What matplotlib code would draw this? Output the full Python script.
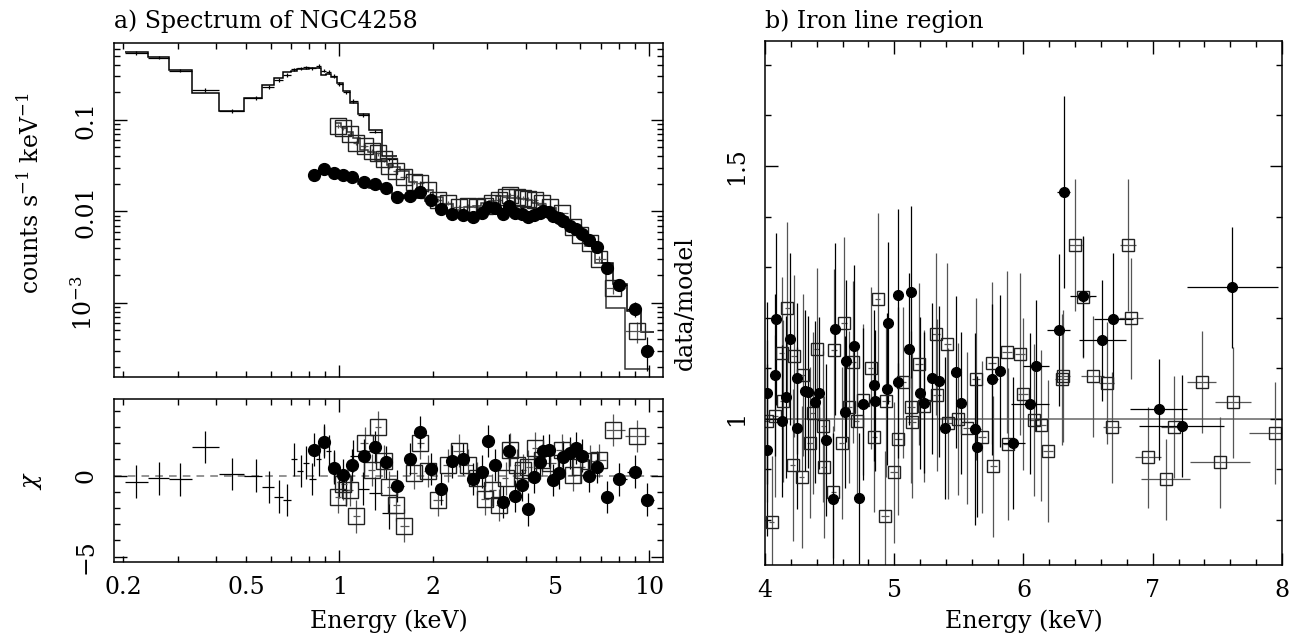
"""
NGC4258 X-ray spectrum: broadband fit with chi residuals (a) and
data/model ratio around the iron line (b), PGPLOT-like styling.
"""

import numpy as np
import matplotlib

matplotlib.use("Agg")
import matplotlib.pyplot as plt
from matplotlib.ticker import FixedFormatter, FixedLocator, NullFormatter

plt.rcParams["font.family"] = "DejaVu Serif"
plt.rcParams["mathtext.fontset"] = "dejavuserif"
plt.rcParams["font.size"] = 17

# ---- panel a: soft-band data (plain crosses) ----
soft_e = [0.221, 0.261, 0.305, 0.367, 0.451, 0.536, 0.591, 0.637, 0.678, 0.713,
          0.749, 0.777, 0.817, 0.858, 0.890, 0.924, 0.958, 1.000, 1.053, 1.110,
          1.190, 1.300, 1.450]
soft_flux = [0.54, 0.48, 0.346, 0.213, 0.126, 0.173, 0.231, 0.274, 0.31, 0.358,
             0.367, 0.376, 0.367, 0.389, 0.346, 0.337, 0.302, 0.247, 0.2, 0.162,
             0.113, 0.0745, 0.037]
soft_chi = [-0.37, -0.17, -0.23, 1.77, 0.1, 0.0, -0.7, -1.3, -1.5, 1.0,
            0.3, 0.8, -0.2, 1.0, 2.2, 1.5, 0.6, -0.4, -0.9, 1.2,
            -0.8, -1.1, -2.3]
soft_relerr = 0.045

# ---- panel a: open squares ----
sq_e = [0.99, 1.03, 1.08, 1.13, 1.21, 1.27, 1.33, 1.39, 1.45, 1.52,
        1.62, 1.74, 1.82, 1.93, 2.08, 2.24, 2.43, 2.61, 2.78, 2.96,
        3.12, 3.27, 3.45, 3.56, 3.76, 3.93, 4.08, 4.29, 4.50, 4.79,
        5.23, 5.70, 6.00, 6.45, 6.91, 7.67, 9.17]
sq_flux = [0.086, 0.081, 0.070, 0.056, 0.052, 0.046, 0.043, 0.037, 0.031, 0.028,
           0.024, 0.021, 0.0203, 0.0172, 0.0134, 0.0123, 0.0113, 0.0115, 0.0113, 0.0115,
           0.0123, 0.0134, 0.0145, 0.0152, 0.0145, 0.0140, 0.0138, 0.0134, 0.0123, 0.0113,
           0.0095, 0.0068, 0.0055, 0.0045, 0.0030, 0.00145, 0.00049]
sq_chi = [-1.31, -0.5, -0.9, -2.52, 2.02, 0.36, 3.0, 0.88, -0.73, -1.83,
          -3.08, 0.15, 2.02, 0.3, -1.52, 0.63, 1.54, 0.63, -0.17, -1.42,
          -0.9, -1.83, -0.17, 1.6, 0.63, 0.36, 0.56, 1.71, 0.98, 0.77,
          1.56, 0.04, 0.56, 0.88, 0.94, 2.81, 2.44]
sq_relerr = [0.05, 0.05, 0.05, 0.05, 0.05, 0.05, 0.05, 0.05, 0.05, 0.05,
             0.05, 0.05, 0.05, 0.05, 0.05, 0.05, 0.05, 0.05, 0.05, 0.05,
             0.05, 0.05, 0.05, 0.05, 0.05, 0.05, 0.05, 0.05, 0.05, 0.05,
             0.05, 0.06, 0.06, 0.07, 0.09, 0.14, 0.25]

# ---- panel a: filled circles ----
circ_e = [0.83, 0.89, 0.96, 1.03, 1.10, 1.20, 1.30, 1.41, 1.54, 1.69,
          1.82, 1.97, 2.13, 2.31, 2.51, 2.70, 2.89, 3.03, 3.19, 3.37,
          3.54, 3.70, 3.88, 4.08, 4.26, 4.43, 4.56, 4.77, 4.91, 5.12,
          5.28, 5.55, 5.81, 6.07, 6.41, 6.78, 7.30, 8.00, 9.00, 9.88]
circ_flux = [0.025, 0.029, 0.0266, 0.0251, 0.0237, 0.021, 0.020, 0.0182, 0.0145, 0.0149,
             0.0164, 0.0134, 0.0106, 0.0094, 0.0092, 0.0088, 0.0097, 0.0113, 0.0108, 0.0094,
             0.0115, 0.0097, 0.0094, 0.0087, 0.0092, 0.0096, 0.0100, 0.0098, 0.0090, 0.0085,
             0.0078, 0.0069, 0.0064, 0.0056, 0.0049, 0.0041, 0.0024, 0.00157, 0.00086, 0.00030]
circ_chi = [1.6, 2.06, 0.46, 0.04, 0.67, 1.23, 1.77, 0.81, -0.64, 1.02,
            2.69, 0.42, -0.83, 0.88, 1.04, -0.2, 0.25, 2.13, 0.67, -1.63,
            1.54, -1.27, -0.58, -2.08, -0.1, 0.81, 1.5, 1.56, -0.27, 0.19,
            1.13, 1.4, 1.71, 1.23, 0.0, 0.52, -1.31, -0.23, 0.25, -1.48]
circ_relerr = [0.05, 0.05, 0.05, 0.05, 0.05, 0.05, 0.05, 0.05, 0.05, 0.05,
               0.05, 0.05, 0.05, 0.05, 0.05, 0.05, 0.05, 0.05, 0.05, 0.05,
               0.05, 0.05, 0.05, 0.05, 0.05, 0.05, 0.05, 0.05, 0.05, 0.05,
               0.05, 0.05, 0.06, 0.06, 0.07, 0.08, 0.10, 0.13, 0.18, 0.40]

# ---- panel b: iron line region, data/model ----
fe_circ_e = [4.013, 4.018, 4.077, 4.085, 4.134, 4.160, 4.193, 4.245, 4.250, 4.310,
             4.335, 4.387, 4.420, 4.472, 4.524, 4.544, 4.619, 4.627, 4.691, 4.730,
             4.761, 4.846, 4.851, 4.942, 4.949, 5.027, 5.033, 5.114, 5.127, 5.199,
             5.230, 5.290, 5.346, 5.393, 5.478, 5.515, 5.628, 5.638, 5.760, 5.818,
             5.921, 6.050, 6.097, 6.272, 6.310, 6.463, 6.610, 6.695, 7.048, 7.224,
             7.616]
fe_circ_ratio = [1.052, 0.939, 1.087, 1.197, 0.996, 1.044, 1.158, 0.982, 1.080, 1.056,
                 1.053, 1.033, 1.051, 0.958, 0.842, 1.178, 1.014, 1.115, 1.144, 0.843,
                 1.030, 1.066, 1.036, 1.059, 1.190, 1.072, 1.244, 1.138, 1.250, 1.051,
                 1.032, 1.080, 1.074, 0.982, 1.092, 1.031, 0.980, 0.945, 1.078, 1.094,
                 0.952, 1.030, 1.105, 1.176, 1.449, 1.242, 1.155, 1.198, 1.019, 0.986,
                 1.260]
fe_circ_yerr = [0.18, 0.17, 0.16, 0.17, 0.15, 0.16, 0.17, 0.16, 0.15, 0.16,
                0.15, 0.16, 0.15, 0.15, 0.13, 0.17, 0.15, 0.16, 0.16, 0.13,
                0.15, 0.15, 0.14, 0.15, 0.16, 0.15, 0.17, 0.15, 0.17, 0.15,
                0.14, 0.15, 0.15, 0.14, 0.15, 0.14, 0.19, 0.14, 0.15, 0.15,
                0.13, 0.14, 0.13, 0.15, 0.19, 0.12, 0.12, 0.13, 0.10, 0.10,
                0.12]
fe_circ_xerr = [0.02, 0.02, 0.02, 0.02, 0.02, 0.02, 0.02, 0.02, 0.02, 0.02,
                0.02, 0.02, 0.02, 0.02, 0.025, 0.025, 0.025, 0.025, 0.025, 0.025,
                0.025, 0.025, 0.025, 0.025, 0.03, 0.03, 0.03, 0.03, 0.03, 0.03,
                0.03, 0.03, 0.03, 0.03, 0.04, 0.04, 0.04, 0.04, 0.04, 0.04,
                0.09, 0.15, 0.10, 0.09, 0.05, 0.10, 0.18, 0.15, 0.22, 0.33,
                0.35]

fe_sq_e = [4.013, 4.052, 4.077, 4.129, 4.137, 4.173, 4.214, 4.224, 4.284, 4.292,
           4.348, 4.369, 4.400, 4.451, 4.456, 4.528, 4.534, 4.593, 4.611, 4.652,
           4.683, 4.709, 4.761, 4.818, 4.846, 4.872, 4.928, 4.934, 4.998, 5.031,
           5.065, 5.127, 5.135, 5.194, 5.230, 5.321, 5.330, 5.412, 5.420, 5.490,
           5.565, 5.633, 5.677, 5.755, 5.768, 5.871, 5.880, 5.973, 5.994, 6.081,
           6.135, 6.192, 6.296, 6.308, 6.400, 6.463, 6.537, 6.644, 6.683, 6.810,
           6.832, 6.961, 7.102, 7.164, 7.379, 7.520, 7.624, 7.946]
fe_sq_ratio = [0.995, 0.797, 1.005, 1.130, 1.036, 1.219, 0.909, 1.125, 0.885, 1.087,
               0.953, 1.011, 1.138, 0.985, 0.905, 0.855, 1.136, 0.952, 1.190, 1.024,
               1.113, 0.995, 1.038, 1.100, 0.965, 1.237, 0.807, 1.036, 0.894, 0.960,
               1.072, 1.024, 0.993, 1.109, 1.026, 1.167, 1.047, 1.148, 0.991, 0.999,
               0.982, 1.078, 0.964, 1.111, 0.906, 1.133, 0.951, 1.128, 1.049, 0.998,
               0.987, 0.937, 1.078, 1.085, 1.344, 1.240, 1.084, 1.071, 0.983, 1.344,
               1.199, 0.924, 0.881, 0.984, 1.073, 0.914, 1.033, 0.972]
fe_sq_yerr = [0.16, 0.13, 0.16, 0.15, 0.16, 0.17, 0.15, 0.16, 0.14, 0.16,
              0.15, 0.16, 0.16, 0.15, 0.14, 0.13, 0.16, 0.15, 0.17, 0.15,
              0.16, 0.15, 0.15, 0.16, 0.15, 0.17, 0.13, 0.15, 0.14, 0.15,
              0.15, 0.15, 0.15, 0.16, 0.15, 0.16, 0.15, 0.16, 0.15, 0.15,
              0.15, 0.16, 0.15, 0.16, 0.14, 0.16, 0.15, 0.16, 0.15, 0.15,
              0.15, 0.14, 0.13, 0.13, 0.13, 0.12, 0.12, 0.12, 0.11, 0.13,
              0.12, 0.10, 0.08, 0.10, 0.10, 0.09, 0.11, 0.10]
fe_sq_xerr = [0.02, 0.02, 0.02, 0.02, 0.02, 0.02, 0.02, 0.02, 0.02, 0.02,
              0.02, 0.02, 0.02, 0.02, 0.02, 0.02, 0.02, 0.02, 0.02, 0.02,
              0.02, 0.02, 0.02, 0.02, 0.02, 0.02, 0.03, 0.03, 0.03, 0.03,
              0.03, 0.03, 0.03, 0.03, 0.03, 0.03, 0.03, 0.03, 0.03, 0.03,
              0.03, 0.03, 0.03, 0.03, 0.03, 0.04, 0.04, 0.04, 0.04, 0.04,
              0.04, 0.04, 0.05, 0.05, 0.05, 0.05, 0.09, 0.06, 0.07, 0.06,
              0.09, 0.10, 0.19, 0.10, 0.11, 0.23, 0.14, 0.20]

# axis tick values / labels
spec_major = [1e-3, 1e-2, 1e-1]
spec_labels = [r"$10^{-3}$", "0.01", "0.1"]
e_major = [1, 10]
e_minor = [0.2, 0.3, 0.4, 0.5, 0.6, 0.7, 0.8, 0.9, 2, 3, 4, 5, 6, 7, 8, 9]
e_minor_labels = ["0.2", "", "", "0.5", "", "", "", "", "2", "", "", "5", "", "", "", ""]
chi_major = [-5, 0]
chi_labels = ["\u22125", "0"]
ratio_major = [1.0, 1.5]
ratio_labels = ["1", "1.5"]
fe_e_major = [4, 5, 6, 7, 8]

INK = "black"
GREY = "#555555"


def log_edges(e):
    """Bin edges halfway (in log) between neighbouring channel energies."""
    e = np.asarray(e, float)
    mid = np.sqrt(e[:-1] * e[1:])
    lo = np.concatenate([[e[0] ** 2 / mid[0]], mid])
    hi = np.concatenate([mid, [e[-1] ** 2 / mid[-1]]])
    return lo, hi


def style_axes(ax):
    for sp in ax.spines.values():
        sp.set_linewidth(1.1)
    ax.tick_params(which="both", direction="in", top=True, right=True, width=1.0)
    ax.tick_params(which="major", length=9)
    ax.tick_params(which="minor", length=4.5)
    ax.tick_params(axis="y", which="both", pad=12)
    ax.tick_params(axis="x", which="both", pad=10)


fig = plt.figure(figsize=(12.97, 6.35), dpi=100)
ax_top = fig.add_axes([0.0879, 0.4063, 0.4233, 0.526])
ax_bot = fig.add_axes([0.0879, 0.115, 0.4233, 0.2567])
ax_fe = fig.add_axes([0.5898, 0.1102, 0.3986, 0.8252])

datasets = [
    (soft_e, soft_flux, soft_chi, soft_relerr, dict(fmt="none", ecolor=INK), INK),
    (sq_e, sq_flux, sq_chi, sq_relerr,
     dict(fmt="s", ms=11, mfc="none", mec="#222222", mew=1.0, ecolor=GREY), "#333333"),
    (circ_e, circ_flux, circ_chi, circ_relerr,
     dict(fmt="o", ms=8.5, color=INK, ecolor=INK), INK),
]

for e, flux, chi, rel, kw, model_col in datasets:
    e = np.asarray(e, float)
    flux = np.asarray(flux, float)
    chi = np.asarray(chi, float)
    sigma = np.asarray(rel, float) * flux
    model = flux - chi * sigma
    lo, hi = log_edges(e)
    xerr = [e - lo, hi - e]

    ax_top.stairs(model, np.concatenate([[lo[0]], hi]), baseline=None,
                  color=model_col, lw=1.1)
    ax_top.errorbar(e, flux, xerr=xerr, yerr=sigma, elinewidth=0.9, capsize=0, **kw)
    ax_bot.errorbar(e, chi, xerr=xerr, yerr=np.ones_like(chi), elinewidth=0.9,
                    capsize=0, **kw)

# panel a, top: spectrum
ax_top.set_xscale("log")
ax_top.set_yscale("log")
ax_top.set_xlim(0.187, 11.1)
ax_top.set_ylim(1.55e-4, 0.694)
ax_top.xaxis.set_major_locator(FixedLocator(e_major))
ax_top.xaxis.set_minor_locator(FixedLocator(e_minor))
ax_top.xaxis.set_major_formatter(NullFormatter())
ax_top.xaxis.set_minor_formatter(NullFormatter())
ax_top.yaxis.set_major_locator(FixedLocator(spec_major))
ax_top.yaxis.set_minor_locator(matplotlib.ticker.LogLocator(subs=np.arange(2, 10)))
ax_top.yaxis.set_minor_formatter(NullFormatter())
ax_top.set_yticks(spec_major)
ax_top.set_yticklabels(spec_labels, rotation=90, va="center")
style_axes(ax_top)
ax_top.set_ylabel(r"counts s$^{-1}$ keV$^{-1}$")
ax_top.yaxis.set_label_coords(-0.128, 0.55)

# panel a, bottom: chi residuals
ax_bot.axhline(0, color="#777777", lw=1.1, ls=(0, (5, 4)), zorder=0)
ax_bot.set_xscale("log")
ax_bot.set_xlim(0.187, 11.1)
ax_bot.set_ylim(-5.33, 4.73)
ax_bot.xaxis.set_major_locator(FixedLocator(e_major))
ax_bot.xaxis.set_major_formatter(FixedFormatter(["1", "10"]))
ax_bot.xaxis.set_minor_locator(FixedLocator(e_minor))
ax_bot.xaxis.set_minor_formatter(FixedFormatter(e_minor_labels))
ax_bot.yaxis.set_minor_locator(FixedLocator(np.arange(-5, 5)))
ax_bot.set_yticks(chi_major)
ax_bot.set_yticklabels(chi_labels, rotation=90, va="center")
style_axes(ax_bot)
ax_bot.set_xlabel("Energy (keV)")
ax_bot.xaxis.set_label_coords(0.5, -0.29)
ax_bot.set_ylabel(r"$\chi$")
ax_bot.yaxis.set_label_coords(-0.128, 0.5)

# panel b: iron line ratio
ax_fe.axhline(1.0, color="#666666", lw=1.1, zorder=0)
ax_fe.errorbar(fe_sq_e, fe_sq_ratio, xerr=fe_sq_xerr, yerr=fe_sq_yerr, fmt="s",
               ms=9, mfc="none", mec="#222222", mew=1.0, ecolor=GREY,
               elinewidth=0.9, capsize=0)
ax_fe.errorbar(fe_circ_e, fe_circ_ratio, xerr=fe_circ_xerr, yerr=fe_circ_yerr,
               fmt="o", ms=7, color=INK, ecolor=INK, elinewidth=0.9, capsize=0)
ax_fe.set_xlim(4, 8)
ax_fe.set_ylim(0.711, 1.747)
ax_fe.xaxis.set_major_locator(FixedLocator(fe_e_major))
ax_fe.xaxis.set_minor_locator(FixedLocator(np.arange(4, 8.01, 0.2)))
ax_fe.xaxis.set_major_formatter(FixedFormatter([str(v) for v in fe_e_major]))
ax_fe.yaxis.set_minor_locator(FixedLocator(np.arange(0.8, 1.75, 0.1)))
ax_fe.set_yticks(ratio_major)
ax_fe.set_yticklabels(ratio_labels, rotation=90, va="center")
style_axes(ax_fe)
ax_fe.set_xlabel("Energy (keV)")
ax_fe.xaxis.set_label_coords(0.5, -0.085)
ax_fe.set_ylabel("data/model")
ax_fe.yaxis.set_label_coords(-0.132, 0.5)

fig.text(114 / 1297, 1 - 28 / 635, "a) Spectrum of NGC4258", ha="left", va="baseline")
fig.text(765 / 1297, 1 - 28 / 635, "b) Iron line region", ha="left", va="baseline")

fig.savefig("out.png", dpi=100)
